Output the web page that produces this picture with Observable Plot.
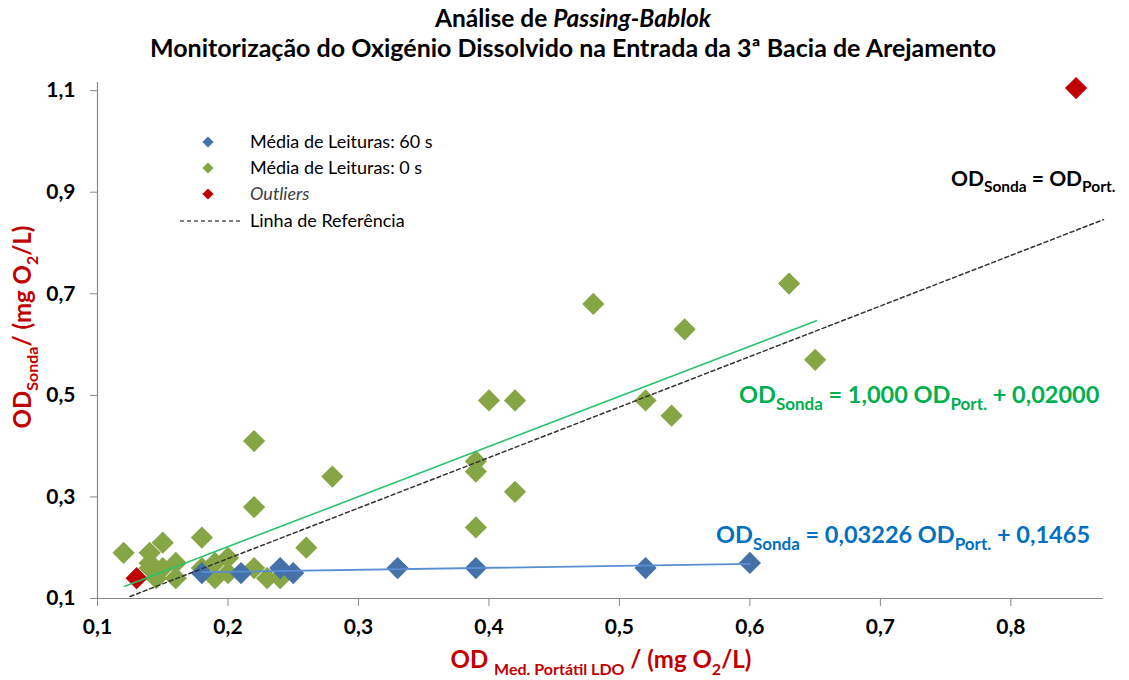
<!DOCTYPE html>
<html>
<head>
<meta charset="utf-8">
<script src="https://cdn.jsdelivr.net/npm/d3@7"></script>
<script src="https://cdn.jsdelivr.net/npm/@observablehq/plot@0.6"></script>
<style>
  body { margin: 0; background: #fff; }
  #wrap { width: 1129px; height: 680px; overflow: hidden; }
  svg text { font-family: Lato, "Open Sans", sans-serif; }
  g[aria-label="x-axis tick"] path, g[aria-label="y-axis tick"] path { stroke: #888; }
  g[aria-label="x-axis tick label"] text, g[aria-label="y-axis tick label"] text { fill: #000; font-weight: bold; }
</style>
</head>
<body>
<div id="wrap"></div>
<script>
// ---- data ----
const xTicks = [0.1, 0.2, 0.3, 0.4, 0.5, 0.6, 0.7, 0.8];
const yTicks = [0.1, 0.3, 0.5, 0.7, 0.9, 1.1];

// Média de Leituras: 60 s
const x60 = [0.18, 0.21, 0.24, 0.25, 0.33, 0.39, 0.52, 0.60];
const y60 = [0.15, 0.15, 0.16, 0.15, 0.16, 0.16, 0.16, 0.17];

// Média de Leituras: 0 s
const x0 = [0.12, 0.14, 0.15, 0.14, 0.14, 0.15, 0.16, 0.16, 0.145, 0.18, 0.18, 0.19, 0.19, 0.20, 0.20,
            0.22, 0.22, 0.22, 0.23, 0.24, 0.26, 0.28, 0.39, 0.39, 0.39, 0.40, 0.42, 0.42, 0.48, 0.52,
            0.54, 0.55, 0.63, 0.65];
const y0 = [0.19, 0.19, 0.21, 0.17, 0.16, 0.16, 0.17, 0.14, 0.14, 0.22, 0.16, 0.17, 0.14, 0.18, 0.15,
            0.41, 0.28, 0.16, 0.14, 0.14, 0.20, 0.34, 0.24, 0.35, 0.37, 0.49, 0.49, 0.31, 0.68, 0.49,
            0.46, 0.63, 0.72, 0.57];

// Outliers
const xOut = [0.13, 0.85];
const yOut = [0.14, 1.105];

// Passing-Bablok fit lines and reference line (end points as drawn)
const fit60X = [0.18, 0.60];
const fit60Y = [0.152, 0.168];
const fit0X = [0.121, 0.651];
const fit0Y = [0.124, 0.647];
const refX = [0.125, 0.871];
const refY = [0.104, 0.846];

// ---- build ----
const pts = (xs, ys) => xs.map((x, i) => ({x, y: ys[i]}));
const fmt = d => d.toFixed(1).replace(".", ",");

const C60 = "#4571A9", C0 = "#86A544", COUT = "#C00000";
const CFIT0 = "#2BC46E", CFIT60 = "#5B8DD2", CEQ0 = "#00B050", CEQ60 = "#0070C0", CRED = "#C00000";

const chart = Plot.plot({
  width: 1129, height: 680,
  marginLeft: 97, marginRight: 26, marginTop: 82, marginBottom: 82,
  style: {fontFamily: "Lato, sans-serif", background: "#fff", overflow: "visible"},
  x: {domain: [0.1, 0.871]},
  y: {domain: [0.1, 1.116]},
  marks: [
    Plot.ruleY([0.1], {stroke: "#888", strokeWidth: 1.2}),
    Plot.ruleX([0.1], {stroke: "#888", strokeWidth: 1.2}),
    Plot.axisX({ticks: xTicks, tickFormat: fmt, tickSize: 8, tickPadding: 13, fontSize: 21, label: null}),
    Plot.axisY({ticks: yTicks, tickFormat: fmt, tickSize: 7, tickPadding: 15, fontSize: 21, label: null}),
    Plot.dot(pts(x0, y0), {x: "x", y: "y", symbol: "diamond2", r: 10, fill: C0, stroke: "none"}),
    Plot.dot(pts(x60, y60), {x: "x", y: "y", symbol: "diamond2", r: 10, fill: C60, stroke: "none"}),
    Plot.dot(pts(xOut, yOut), {x: "x", y: "y", symbol: "diamond2", r: 10, fill: COUT, stroke: "none"}),
    Plot.line(pts(fit60X, fit60Y), {x: "x", y: "y", stroke: CFIT60, strokeWidth: 1.8}),
    Plot.line(pts(fit0X, fit0Y), {x: "x", y: "y", stroke: CFIT0, strokeWidth: 1.6}),
    Plot.line(pts(refX, refY), {x: "x", y: "y", stroke: "#333", strokeWidth: 1.5, strokeDasharray: "4,3"})
  ]
});

const svg = d3.select(chart);

// rich text helper: parts = [[text, kind]] kind: n, sub, i
function rich(g, x, y, parts, size, subSize, color, anchor, weight) {
  const t = g.append("text").attr("x", x).attr("y", y)
    .attr("fill", color).attr("font-size", size).attr("font-weight", weight || "bold")
    .attr("text-anchor", anchor || "start");
  const shift = Math.round(size * 0.28);
  let lowered = false;
  parts.forEach(([s, k]) => {
    const ts = t.append("tspan").text(s);
    if (k === "sub") {
      ts.attr("font-size", subSize);
      if (!lowered) { ts.attr("dy", shift); lowered = true; }
    } else {
      if (lowered) { ts.attr("dy", -shift); lowered = false; }
      if (k === "i") ts.attr("font-style", "italic");
    }
  });
  return t;
}

const ann = svg.append("g").attr("text-anchor", "start");

// Title
ann.append("text").attr("x", 573).attr("y", 27).attr("text-anchor", "middle")
  .attr("font-size", 24.5).attr("font-weight", "bold").attr("fill", "#000")
  .call(t => { t.append("tspan").text("Análise de "); t.append("tspan").attr("font-style", "italic").text("Passing-Bablok"); });
ann.append("text").attr("x", 573).attr("y", 57).attr("text-anchor", "middle")
  .attr("font-size", 24).attr("font-weight", "bold").attr("fill", "#000")
  .attr("textLength", 846).attr("lengthAdjust", "spacingAndGlyphs")
  .text("Monitorização do Oxigénio Dissolvido na Entrada da 3ª Bacia de Arejamento");

// Axis titles
rich(ann, 601, 668, [["OD ", "n"], ["Med. Portátil LDO", "sub"], [" / (mg O", "n"], ["2", "sub"], ["/L)", "n"]], 24, 16, CRED, "middle");
rich(ann.append("g").attr("transform", "translate(31,327) rotate(-90)"), 0, 0,
  [["OD", "n"], ["Sonda", "sub"], ["/ (mg O", "n"], ["2", "sub"], ["/L)", "n"]], 24, 16, CRED, "middle");

// Equation labels
rich(ann, 739, 403, [["OD", "n"], ["Sonda", "sub"], [" = 1,000 OD", "n"], ["Port.", "sub"], [" + 0,02000", "n"]], 23.5, 17, CEQ0, "start");
rich(ann, 716, 543, [["OD", "n"], ["Sonda", "sub"], [" = 0,03226 OD", "n"], ["Port.", "sub"], [" + 0,1465", "n"]], 23.5, 17, CEQ60, "start");
rich(ann, 951, 186, [["OD", "n"], ["Sonda", "sub"], [" = OD", "n"], ["Port.", "sub"]], 21, 15.5, "#000", "start");

// Legend
const lg = svg.append("g").attr("font-size", 18).attr("fill", "#000").attr("text-anchor", "start");
const diamond = d3.symbol(d3.symbolDiamond2, 80)();
const legendItems = [
  {label: "Média de Leituras: 60 s", color: C60, italic: false},
  {label: "Média de Leituras: 0 s", color: C0, italic: false},
  {label: "Outliers", color: COUT, italic: true}
];
legendItems.forEach((d, i) => {
  const yy = 142 + i * 26;
  lg.append("path").attr("d", diamond).attr("transform", `translate(208,${yy})`).attr("fill", d.color);
  lg.append("text").attr("x", 250).attr("y", yy).attr("dy", "0.35em")
    .attr("font-style", d.italic ? "italic" : "normal").attr("fill", d.italic ? "#404040" : "#000").text(d.label);
});
lg.append("line").attr("x1", 180).attr("x2", 243).attr("y1", 221).attr("y2", 221)
  .attr("stroke", "#000").attr("stroke-width", 1).attr("stroke-dasharray", "4,3");
lg.append("text").attr("x", 250).attr("y", 221).attr("dy", "0.35em").text("Linha de Referência");

document.getElementById("wrap").appendChild(chart);
</script>
</body>
</html>
